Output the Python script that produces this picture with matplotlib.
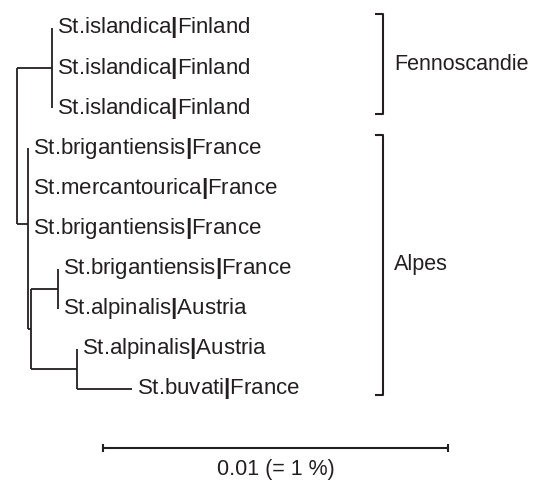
import numpy as np
import matplotlib
matplotlib.use("Agg")
import matplotlib.pyplot as plt

plt.rcParams['font.family'] = ['Liberation Sans', 'DejaVu Sans']
plt.rcParams['mathtext.fontset'] = 'custom'
plt.rcParams['mathtext.rm'] = 'Liberation Sans'
plt.rcParams['mathtext.bf'] = 'Liberation Sans:bold'

# leaves, top to bottom
leaf_names = ["St.islandica", "St.islandica", "St.islandica",
              "St.brigantiensis", "St.mercantourica", "St.brigantiensis",
              "St.brigantiensis", "St.alpinalis", "St.alpinalis", "St.buvati"]
leaf_countries = ["Finland", "Finland", "Finland",
                  "France", "France", "France",
                  "France", "Austria", "Austria", "France"]
leaf_parent = ["fenno", "fenno", "fenno",
               "alpes", "alpes", "alpes",
               "c1", "c1", "c2", "c2"]
leaf_length = [0, 0, 0, 0, 0, 0, 0, 0, 0, 0.0016]

# internal nodes (substitutions / site)
node_names = ["root", "fenno", "alpes", "sub", "c1", "c2"]
node_parent = [None, "root", "root", "alpes", "sub", "sub"]
node_length = [0, 0.00101, 0.00032, 0.00009, 0.00078, 0.00133]

groups = ["Fennoscandie", "Alpes"]
group_first = [0, 3]
group_last = [2, 9]

scale_len = 0.01
scale_label = "0.01 (= 1 %)"

ink = "#231f20"
k = 0.01 / 345  # data units per pixel

# ---- layout ----
children = {n: [] for n in node_names}
for n, p in zip(node_names, node_parent):
    if p is not None:
        children[p].append(n)
for i, p in enumerate(leaf_parent):
    children[p].append(i)

xpos, ypos = {}, {}

def place(n, x):
    if isinstance(n, int):
        xpos[n] = x + leaf_length[n]
        ypos[n] = n
        return ypos[n]
    xpos[n] = x + node_length[node_names.index(n)]
    ys = [place(c, xpos[n]) for c in children[n]]
    ypos[n] = np.mean(ys)
    return ypos[n]

place("root", 0.0)

fig = plt.figure(figsize=(5.45, 4.86), dpi=100)
ax = fig.add_axes([0, 0, 1, 1])
ax.axis('off')
ax.set_xlim(-17 * k, 528 * k)
ax.set_ylim(11.42, -0.698)

lw = 1.3
for n in node_names:
    ys = [ypos[c] for c in children[n]]
    ax.plot([xpos[n], xpos[n]], [min(ys), max(ys)], color=ink, lw=lw,
            solid_capstyle='butt')
    for c in children[n]:
        if xpos[c] > xpos[n]:
            ax.plot([xpos[n], xpos[c]], [ypos[c], ypos[c]], color=ink, lw=lw,
                    solid_capstyle='butt')

for i in range(len(leaf_names)):
    ax.annotate(leaf_names[i] + r"$\mathbf{|}$" + leaf_countries[i],
                xy=(xpos[i], i), xytext=(3.5, 0), textcoords='offset points',
                ha='left', va='center', fontsize=16, color=ink)

# group brackets
bx = 366 * k
for g, a, b in zip(groups, group_first, group_last):
    y0, y1 = a - 0.34, b + 0.15
    ax.plot([bx - 7 * k, bx, bx, bx - 7 * k], [y0, y0, y1, y1], color=ink,
            lw=1.5)
    ax.text(bx + 11 * k, (y0 + y1) / 2, g, ha='left', va='center',
            fontsize=15.5, color=ink)

# scale bar
sx = 86 * k
ax.plot([sx, sx + scale_len], [10.47, 10.47], color=ink, lw=1.5,
        marker='|', markersize=6, markeredgewidth=1.5)
ax.text(sx + scale_len / 2, 11.02, scale_label, ha='center', va='center',
        fontsize=15.5, color=ink)

fig.savefig("out.png", dpi=100)
